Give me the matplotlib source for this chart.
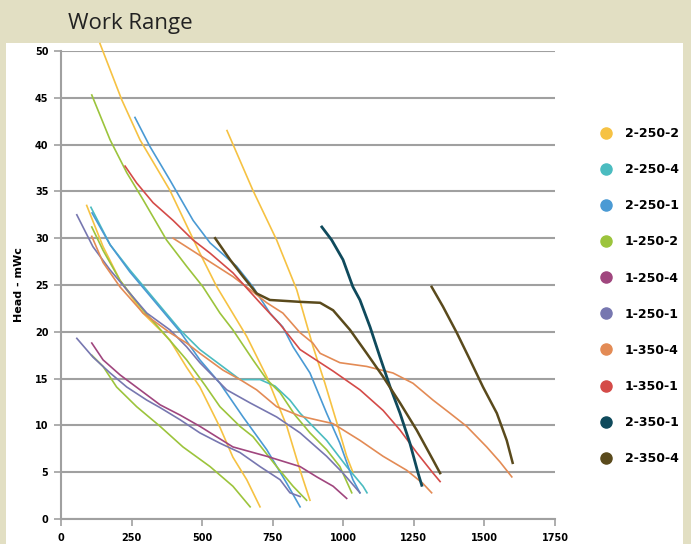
import matplotlib
matplotlib.use("Agg")
import matplotlib.pyplot as plt
from matplotlib.lines import Line2D
from matplotlib.patches import Rectangle

# ---------------- data (flow m3/h, head mWc) ----------------
series_names = ["2-250-2", "2-250-4", "2-250-1", "1-250-2", "1-250-4",
                "1-250-1", "1-350-4", "1-350-1", "2-350-1", "2-350-4"]

x_ticks = [0, 250, 500, 750, 1000, 1250, 1500, 1750]
y_ticks = [0, 5, 10, 15, 20, 25, 30, 35, 40, 45, 50]

# 2-250-2
flow_2_250_2_a = [138, 215, 280, 386, 492, 552, 658, 729, 800, 847, 882]
head_2_250_2_a = [50.8, 44.8, 40.5, 35.1, 28.4, 24.8, 19.5, 15.2, 9.9, 5.2, 2.0]
flow_2_250_2_b = [588, 680, 764, 835, 893, 935, 977, 1012, 1034]
head_2_250_2_b = [41.5, 35.1, 29.8, 24.5, 18.4, 14.5, 10.3, 6.7, 5.0]
flow_2_250_2_c = [91, 149, 209, 290, 351, 386, 445, 492, 563, 609, 658, 705]
head_2_250_2_c = [33.5, 29.1, 25.5, 22.0, 20.2, 19.1, 16.2, 14.1, 9.8, 6.6, 4.2, 1.3]

# 2-250-4
flow_2_250_4_a = [106, 174, 244, 333, 422, 492, 563, 634, 705, 758, 811, 847, 941, 1012, 1070, 1084]
head_2_250_4_a = [33.3, 29.3, 26.6, 23.4, 20.2, 18.1, 16.5, 14.9, 14.9, 14.2, 12.7, 11.3, 8.4, 5.6, 3.5, 2.8]

# 2-250-1
flow_2_250_1_a = [262, 315, 386, 468, 528, 622, 680, 740, 786, 822, 882, 941, 988, 1034, 1059]
head_2_250_1_a = [42.9, 39.8, 36.2, 31.9, 29.5, 27.0, 24.8, 22.0, 20.5, 18.4, 15.6, 11.3, 8.1, 4.2, 2.8]
flow_2_250_1_b = [110, 174, 244, 333, 422, 492, 563, 645, 729, 800, 847]
head_2_250_1_b = [32.7, 29.3, 26.4, 23.2, 20.0, 17.0, 14.5, 10.9, 7.4, 3.8, 1.3]

# 1-250-2
flow_1_250_2_a = [109, 174, 233, 291, 374, 445, 503, 563, 609, 680, 729, 776, 829, 882, 941, 988, 1030]
head_1_250_2_a = [45.3, 40.5, 37.0, 34.1, 29.8, 27.0, 24.8, 22.0, 20.2, 17.0, 14.9, 13.5, 11.1, 9.2, 7.4, 5.6, 2.8]
flow_1_250_2_b = [109, 149, 209, 291, 368, 445, 510, 563, 634, 680, 764, 822, 870]
head_1_250_2_b = [31.2, 28.7, 25.5, 22.3, 19.7, 17.0, 14.3, 12.0, 9.9, 8.8, 5.6, 3.5, 2.0]
flow_1_250_2_c = [109, 149, 197, 268, 351, 432, 528, 609, 670]
head_1_250_2_c = [17.5, 16.3, 14.1, 12.0, 9.9, 7.7, 5.6, 3.5, 1.3]

# 1-250-4
flow_1_250_4_a = [109, 149, 209, 280, 351, 422, 492, 609, 729, 847, 906, 964, 1012]
head_1_250_4_a = [18.8, 17.0, 15.4, 13.8, 12.2, 11.1, 9.9, 7.7, 6.7, 5.6, 4.5, 3.5, 2.2]

# 1-250-1
flow_1_250_1_a = [56, 113, 174, 233, 304, 386, 445, 492, 587, 670, 764, 847, 941, 999, 1059]
head_1_250_1_a = [32.5, 29.1, 26.6, 24.5, 22.0, 20.2, 18.4, 16.7, 13.8, 12.4, 10.9, 9.2, 6.7, 4.9, 2.8]
flow_1_250_1_b = [56, 113, 174, 233, 304, 351, 422, 492, 563, 634, 705, 776, 811, 847]
head_1_250_1_b = [19.3, 17.3, 15.6, 14.1, 12.7, 11.9, 10.6, 9.2, 8.1, 7.1, 5.6, 4.2, 2.8, 2.4]

# 1-350-4
flow_1_350_4_a = [109, 149, 209, 291, 386, 445, 492, 574, 634, 693, 764, 847, 918, 963, 1059, 1141, 1225, 1282, 1313]
head_1_350_4_a = [30.2, 27.4, 24.8, 22.0, 19.9, 18.8, 17.7, 15.9, 14.9, 13.8, 12.0, 11.0, 10.5, 10.2, 8.4, 6.7, 5.2, 3.8, 2.8]
flow_1_350_4_b = [397, 516, 609, 670, 729, 786, 847, 892, 918, 988, 1083, 1176, 1247, 1318, 1378, 1437, 1508, 1555, 1597]
head_1_350_4_b = [30.0, 27.7, 25.9, 24.5, 23.1, 22.0, 19.9, 18.8, 17.7, 16.7, 16.3, 15.6, 14.5, 12.7, 11.3, 9.9, 7.7, 6.1, 4.5]

# 1-350-1
flow_1_350_1_a = [227, 268, 326, 397, 468, 528, 609, 648, 705, 776, 847, 964, 1059, 1141, 1201, 1260, 1318, 1343]
head_1_350_1_a = [37.7, 35.9, 33.8, 31.9, 29.8, 28.4, 26.3, 25.0, 23.1, 20.8, 18.1, 15.8, 13.8, 11.6, 9.5, 7.1, 4.9, 4.0]

# 2-350-1
flow_2_350_1_a = [924, 959, 999, 1034, 1059, 1095, 1130, 1166, 1201, 1236, 1265, 1278]
head_2_350_1_a = [31.2, 29.8, 27.7, 24.8, 23.4, 20.5, 17.3, 14.1, 11.3, 8.1, 4.9, 3.6]

# 2-350-4
flow_2_350_4_a = [546, 599, 645, 693, 740, 847, 918, 964, 1024, 1083, 1141, 1201, 1260, 1318, 1343]
head_2_350_4_a = [30.0, 27.7, 25.9, 24.1, 23.4, 23.2, 23.1, 22.3, 20.2, 17.7, 15.2, 12.4, 9.5, 6.3, 4.9]
flow_2_350_4_b = [1313, 1353, 1402, 1449, 1495, 1544, 1579, 1600]
head_2_350_4_b = [24.8, 22.7, 19.9, 17.0, 14.1, 11.3, 8.4, 6.0]

# ---------------- style ----------------
colors = ["#F6C243", "#4BBCC0", "#4A9AD4", "#9CC43C", "#A0467E",
          "#7777B0", "#E38B55", "#D44B48", "#0F4A5C", "#5A4A1C"]
widths = [1.2, 1.2, 1.2, 1.2, 1.2, 1.2, 1.2, 1.2, 2.0, 1.8]

segments = [
    [(flow_2_250_2_a, head_2_250_2_a), (flow_2_250_2_b, head_2_250_2_b), (flow_2_250_2_c, head_2_250_2_c)],
    [(flow_2_250_4_a, head_2_250_4_a)],
    [(flow_2_250_1_a, head_2_250_1_a), (flow_2_250_1_b, head_2_250_1_b)],
    [(flow_1_250_2_a, head_1_250_2_a), (flow_1_250_2_b, head_1_250_2_b), (flow_1_250_2_c, head_1_250_2_c)],
    [(flow_1_250_4_a, head_1_250_4_a)],
    [(flow_1_250_1_a, head_1_250_1_a), (flow_1_250_1_b, head_1_250_1_b)],
    [(flow_1_350_4_a, head_1_350_4_a), (flow_1_350_4_b, head_1_350_4_b)],
    [(flow_1_350_1_a, head_1_350_1_a)],
    [(flow_2_350_1_a, head_2_350_1_a)],
    [(flow_2_350_4_a, head_2_350_4_a), (flow_2_350_4_b, head_2_350_4_b)],
]

W, H = 691, 544
fig = plt.figure(figsize=(W / 100, H / 100), dpi=100)
beige = "#E2DFC3"
fig.patch.set_facecolor(beige)
# white panel
fig.add_artist(Rectangle((6 / W, 0), (683 - 6) / W, (H - 43) / H,
                         transform=fig.transFigure, facecolor="white",
                         edgecolor="none", zorder=0))
fig.text(68 / W, 1 - 24 / H, "Work Range", fontsize=16, family="Open Sans",
         color="#222222", va="center", ha="left")

ax = fig.add_axes([61 / W, (H - 519) / H, (555 - 61) / W, (519 - 51) / H])
ax.set_facecolor("none")
ax.set_xlim(0, 1750)
ax.set_ylim(0, 50)

grid_c = "#A0A0A0"
for s in ["top", "right"]:
    ax.spines[s].set_visible(False)
for s in ["left", "bottom"]:
    ax.spines[s].set_color(grid_c)
    ax.spines[s].set_linewidth(1.5)
ax.set_yticks(y_ticks)
ax.set_xticks(x_ticks)
ax.yaxis.grid(True, color=grid_c, linewidth=1.5)
ax.set_axisbelow(True)
ax.tick_params(axis="both", colors=grid_c, length=5, width=1.2, labelcolor="black",
               labelsize=7)
for lab in ax.get_xticklabels() + ax.get_yticklabels():
    lab.set_fontweight("bold")
ax.tick_params(axis="y", pad=4)
ax.tick_params(axis="x", pad=5)
ax.set_ylabel("Head - mWc", fontsize=8, fontweight="bold", labelpad=8)

for name, col, lw, segs in zip(series_names, colors, widths, segments):
    for fx, hy in segs:
        ax.plot(fx, hy, color=col, linewidth=lw, clip_on=False, zorder=3)

handles = [Line2D([], [], linestyle="none", marker="o", markersize=8,
                  markerfacecolor=c, markeredgecolor=c) for c in colors]
fig.legend(handles, series_names, loc="upper left",
           bbox_to_anchor=(600 / W, 1 - 127 / H), frameon=False,
           handlelength=1.0, handletextpad=1.0, labelspacing=1.85,
           borderpad=0, borderaxespad=0,
           prop={"size": 9, "weight": "bold"})

fig.savefig("out.png", dpi=100, facecolor=fig.get_facecolor())
